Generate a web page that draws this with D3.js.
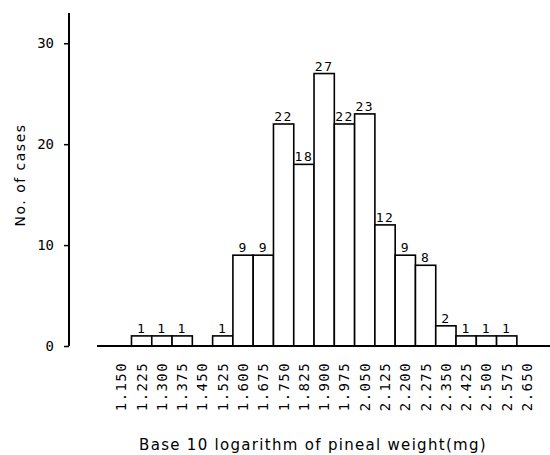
<!DOCTYPE html>
<html>
<head>
<meta charset="utf-8">
<script src="https://cdn.jsdelivr.net/npm/d3@7"></script>
<style>
  body { margin: 0; background: #fff; }
</style>
</head>
<body>
<div id="chart"></div>
<script>
// bin midpoints (log10 pineal weight) and counts
const binLabels = ["1.150","1.225","1.300","1.375","1.450","1.525","1.600","1.675","1.750","1.825",
                   "1.900","1.975","2.050","2.125","2.200","2.275","2.350","2.425","2.500","2.575","2.650"];
const counts = [0,1,1,1,0,1,9,9,22,18,27,22,23,12,9,8,2,1,1,1,0];
const yTicks = [0, 10, 20, 30];
const binWidth = 0.075;

const width = 550, height = 455;
const mono = "'DejaVu Sans Mono', monospace";
const sans = "'DejaVu Sans', sans-serif";

const bins = binLabels.map((b, i) => ({mid: +b, label: b, n: counts[i]}));

const x = d3.scaleLinear().domain([1.06, 2.735]).range([97, 550]);
const y = d3.scaleLinear().domain([0, 33]).range([346, 13]);

const svg = d3.select("#chart").append("svg")
    .attr("width", width)
    .attr("height", height);

// bars
svg.append("g")
  .selectAll("rect")
  .data(bins.filter(d => d.n > 0))
  .enter().append("rect")
    .attr("x", d => x(d.mid - binWidth / 2))
    .attr("width", d => x(d.mid + binWidth / 2) - x(d.mid - binWidth / 2))
    .attr("y", d => y(d.n))
    .attr("height", d => y(0) - y(d.n))
    .attr("fill", "#fff")
    .attr("stroke", "#000")
    .attr("stroke-width", 1.6);

// counts on top
svg.append("g")
  .selectAll("text")
  .data(bins.filter(d => d.n > 0))
  .enter().append("text")
    .attr("x", d => x(d.mid))
    .attr("y", d => y(d.n) - 3)
    .attr("text-anchor", "middle")
    .style("font", "13px " + mono)
    .style("letter-spacing", "1.5px")
    .text(d => d.n);

// baseline
svg.append("line")
    .attr("x1", x.range()[0]).attr("x2", x.range()[1])
    .attr("y1", y(0)).attr("y2", y(0))
    .attr("stroke", "#000").attr("stroke-width", 2);

// y axis
const yAxis = svg.append("g")
    .attr("transform", "translate(69,0)")
    .call(d3.axisLeft(y).tickValues(yTicks).tickSize(5).tickPadding(10));
yAxis.select(".domain").attr("stroke-width", 2).attr("d", `M0,${y(33)}V${y(0)}`);
yAxis.selectAll("text").style("font", "14px " + mono);
yAxis.selectAll(".tick line").attr("stroke-width", 1.5);

// rotated bin labels under the baseline
svg.append("g")
  .selectAll("text")
  .data(bins)
  .enter().append("text")
    .attr("transform", d => `translate(${x(d.mid) + 5},362) rotate(-90)`)
    .attr("text-anchor", "end")
    .style("font", "14px " + mono)
    .style("letter-spacing", "1.4px")
    .text(d => d.label);

// axis titles
svg.append("text")
    .attr("transform", "translate(25,175) rotate(-90)")
    .attr("text-anchor", "middle")
    .style("font", "14px " + sans)
    .style("letter-spacing", "1.5px")
    .text("No. of cases");

svg.append("text")
    .attr("x", 313).attr("y", 450)
    .attr("text-anchor", "middle")
    .style("font", "15px " + sans)
    .style("letter-spacing", "1.3px")
    .text("Base 10 logarithm of pineal weight(mg)");
</script>
</body>
</html>
